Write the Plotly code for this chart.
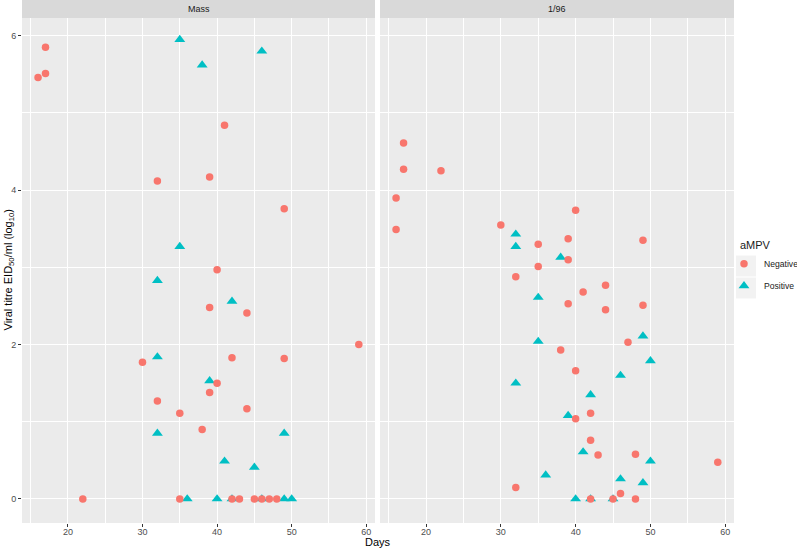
import plotly.graph_objects as go

# ---- data ----
mass_neg_x = [16, 17, 17, 41, 32, 39, 49, 40, 39, 44, 59, 30, 42, 49, 40, 39, 32, 44, 35, 38,
              22, 35, 42, 43, 45, 46, 47, 48]
mass_neg_y = [5.46, 5.51, 5.85, 4.84, 4.12, 4.17, 3.76, 2.97, 2.48, 2.41, 2.00, 1.77, 1.83, 1.82,
              1.50, 1.38, 1.27, 1.17, 1.11, 0.90, 0, 0, 0, 0, 0, 0, 0, 0]
mass_pos_x = [35, 38, 46, 35, 32, 42, 32, 39, 32, 49, 41, 45, 36, 40, 42, 46, 49, 50]
mass_pos_y = [5.95, 5.62, 5.80, 3.27, 2.83, 2.56, 1.84, 1.53, 0.85, 0.85, 0.49, 0.41,
              0, 0, 0, 0, 0, 0]
v196_neg_x = [17, 17, 22, 16, 16, 30, 40, 35, 39, 49, 39, 35, 32, 44, 41, 39, 49, 44, 47, 38,
              40, 42, 40, 42, 43, 48, 59, 32, 46, 42, 45, 48]
v196_neg_y = [4.61, 4.27, 4.25, 3.90, 3.49, 3.55, 3.74, 3.30, 3.37, 3.35, 3.10, 3.01, 2.88, 2.77,
              2.68, 2.53, 2.51, 2.45, 2.03, 1.93, 1.66, 1.11, 1.04, 0.76, 0.57, 0.58, 0.475,
              0.15, 0.07, 0, 0, 0]
v196_pos_x = [32, 32, 38, 35, 49, 35, 50, 46, 32, 42, 39, 41, 50, 36, 46, 49, 40, 42, 45]
v196_pos_y = [3.43, 3.27, 3.13, 2.61, 2.11, 2.04, 1.79, 1.60, 1.50, 1.35, 1.08, 0.61, 0.49,
              0.31, 0.26, 0.21, 0, 0, 0]

panels = ["Mass", "1/96"]
x_ticks = [20, 30, 40, 50, 60]
y_ticks = [0, 2, 4, 6]

NEG_COL = "#F8766D"
POS_COL = "#00BFC4"
FONT = "Liberation Sans, Arial, sans-serif"

fig = go.Figure()

# positives first so negatives draw on top
fig.add_trace(go.Scatter(x=mass_pos_x, y=mass_pos_y, mode="markers", name="Positive",
                         legendgroup="pos", legendrank=2,
                         marker=dict(symbol="triangle-up", size=9.5, color=POS_COL, line=dict(width=0)),
                         xaxis="x", yaxis="y"))
fig.add_trace(go.Scatter(x=v196_pos_x, y=v196_pos_y, mode="markers", name="Positive",
                         legendgroup="pos", showlegend=False,
                         marker=dict(symbol="triangle-up", size=9.5, color=POS_COL, line=dict(width=0)),
                         xaxis="x2", yaxis="y2"))
fig.add_trace(go.Scatter(x=mass_neg_x, y=mass_neg_y, mode="markers", name="Negative",
                         legendgroup="neg", legendrank=1,
                         marker=dict(symbol="circle", size=7.5, color=NEG_COL, line=dict(width=0)),
                         xaxis="x", yaxis="y"))
fig.add_trace(go.Scatter(x=v196_neg_x, y=v196_neg_y, mode="markers", name="Negative",
                         legendgroup="neg", showlegend=False,
                         marker=dict(symbol="circle", size=7.5, color=NEG_COL, line=dict(width=0)),
                         xaxis="x2", yaxis="y2"))

W, H = 797, 548
ML, MR, MT, MB = 22, 63, 18, 25
PW = W - ML - MR
PH = H - MT - MB
split_l = 353 / PW
split_r = 358 / PW

xr = [13.85, 61.17]
yr = [-0.311, 6.230]

common_x = dict(range=xr, tickvals=x_ticks, ticktext=[str(v) for v in x_ticks],
                showgrid=True, gridcolor="white", gridwidth=1.1,
                minor=dict(dtick=5, tick0=0, showgrid=True, gridcolor="white", gridwidth=0.5, ticks=""),
                ticks="outside", ticklen=3, tickcolor="#333333", tickwidth=1,
                ticklabelstandoff=-3,
                tickfont=dict(size=9, color="#4D4D4D", family=FONT),
                zeroline=False, showline=False, fixedrange=True)
common_y = dict(range=yr, tickvals=y_ticks,
                showgrid=True, gridcolor="white", gridwidth=1.1,
                minor=dict(dtick=1, tick0=0, showgrid=True, gridcolor="white", gridwidth=0.5, ticks=""),
                zeroline=False, showline=False, fixedrange=True)

fig.update_layout(
    width=W, height=H,
    margin=dict(l=ML, r=MR, t=MT, b=MB, autoexpand=False),
    paper_bgcolor="white", plot_bgcolor="#EBEBEB",
    font=dict(family=FONT, color="#1A1A1A"),
    xaxis=dict(domain=[0, split_l], anchor="y", **common_x),
    xaxis2=dict(domain=[split_r, 1], anchor="y2", **common_x),
    yaxis=dict(domain=[0, 1], anchor="x", ticks="outside", ticklen=3, tickcolor="#333333",
               tickfont=dict(size=9, color="#4D4D4D", family=FONT), **common_y),
    yaxis2=dict(domain=[0, 1], anchor="x2", showticklabels=False, ticks="", **common_y),
    showlegend=True,
    legend=dict(x=1 + 4 / PW, xanchor="left", y=1 - (235 - MT) / PH, yanchor="top",
                title=dict(text="aMPV", font=dict(size=11, color="#1A1A1A", family=FONT)),
                font=dict(size=8.6, color="#1A1A1A", family=FONT),
                indentation=-14,
                bgcolor="rgba(0,0,0,0)", itemwidth=30, tracegroupgap=3),
)

# facet strips
strip_h = MT / PH
for (x0, x1), label in zip([(0, split_l), (split_r, 1)], panels):
    fig.add_shape(type="rect", xref="paper", yref="paper", x0=x0, x1=x1, y0=1, y1=1 + strip_h,
                  fillcolor="#D9D9D9", line=dict(width=0), layer="below")
    fig.add_annotation(text=label, xref="paper", yref="paper", x=(x0 + x1) / 2, y=1 + strip_h / 2,
                       showarrow=False, font=dict(size=9, color="#1A1A1A", family=FONT),
                       xanchor="center", yanchor="middle")

# legend key backgrounds
for yc in [266, 288]:
    fig.add_shape(type="rect", xref="paper", yref="paper",
                  x0=1 + 2 / PW, x1=1 + 22 / PW,
                  y0=1 - (yc + 10.5 - MT) / PH, y1=1 - (yc - 10.5 - MT) / PH,
                  fillcolor="#F2F2F2", line=dict(width=0), layer="below")

# axis titles
fig.add_annotation(text="Days", xref="paper", yref="paper", x=0.5, y=-(542 - MT - PH) / PH,
                   showarrow=False, font=dict(size=11, color="#000000", family=FONT),
                   xanchor="center", yanchor="middle")
fig.add_annotation(text="Viral titre EID<sub>50</sub>/ml (log<sub>10</sub>)", xref="paper", yref="paper",
                   x=-(ML - 8) / PW, y=0.5, textangle=-90, showarrow=False,
                   font=dict(size=11, color="#000000", family=FONT),
                   xanchor="center", yanchor="middle")

fig.write_html("out.html", config={"displayModeBar": False},
               post_script="document.body.style.margin='0';")
